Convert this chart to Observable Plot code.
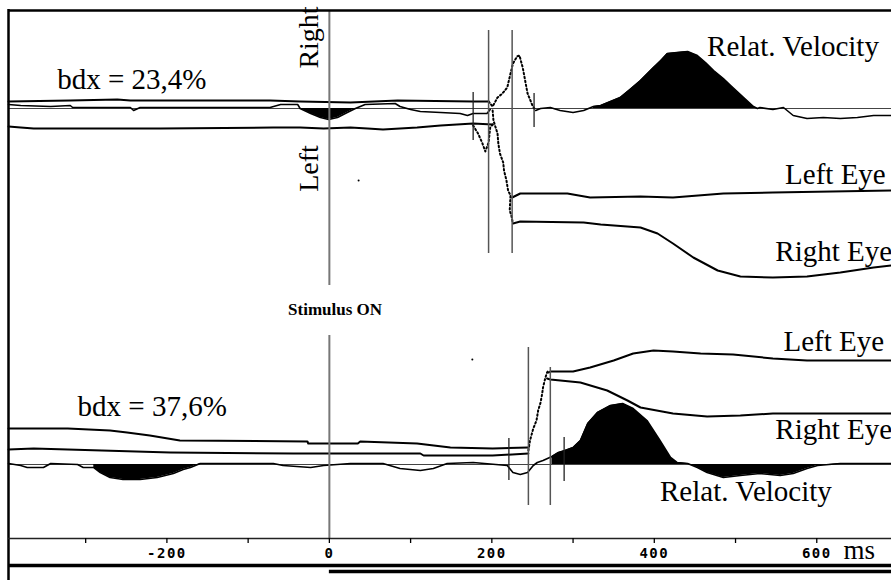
<!DOCTYPE html>
<html><head><meta charset="utf-8">
<script src="https://cdn.jsdelivr.net/npm/d3@7"></script>
<script src="https://cdn.jsdelivr.net/npm/@observablehq/plot@0.6"></script>
<style>
html,body{margin:0;padding:0;background:#fff;}
#chart svg{display:block;}
g[aria-label="x-axis tick label"] text{letter-spacing:1.5px;font-weight:bold;}
</style></head><body><div id="chart"></div>
<script>
// time axis (ms)
const timeTicks = [-300,-200,-100,0,100,200,300,400,500,600];
const tickLabels = {"-200":"-200","0":"0","200":"200","400":"400","600":"600"};

// ---- upper recording (bdx = 23,4%) : [ms, amplitude units] ----
const topUpperLine = [[-395,437],[-319,438],[-261,439],[-245,438],[-73,438],[-36,437],[26,436],[84,438],[177,437],[196,437]];
const topLowerLine = [[-395,412],[-380,411],[-364,410],[-208,410],[-69,411],[-36,411],[-7,410],[26,411],[47,410],[66,409],[87,410],[108,411],[137,413],[177,415],[201,414]];
const topVelocityPre = [[-395,434],[-380,433],[-343,432],[-319,433],[-316,431],[-245,431],[-241,428],[-233,431],[-73,431],[-60,434],[-39,434],[-36,430],[-23,425],[-11,421],[-1,419],[10,421],[22,426],[32,430],[44,434],[81,435],[87,432],[100,429],[112,427],[137,426],[161,425],[170,423],[177,425],[194,425],[198,429]];
const topVelocityPost = [[254,428],[260,430],[272,431],[284,428],[300,426],[313,428],[325,432],[334,433],[346,437],[358,441],[370,449],[383,458],[399,471],[408,478],[416,485],[428,486],[441,487],[453,483],[463,476],[473,468],[485,460],[494,453],[510,441],[522,432],[527,430],[530,431],[546,429],[559,431],[571,423],[588,420],[608,421],[629,420],[650,421],[670,423],[692,423]];
const topLeftEye = [[225,341],[235,345],[293,345],[321,341],[383,342],[423,341],[485,345],[546,346],[692,348]];
const topRightEye = [[226,315],[235,317],[313,316],[334,314],[383,311],[404,305],[423,295],[448,281],[478,268],[506,262],[546,261],[588,262],[629,266],[670,271],[692,273]];
const topSaccadeRise = [[196,437],[201,432],[207,441],[213,445],[219,451],[223,465],[226,475],[231,482],[234,483],[238,471],[241,458],[244,445],[250,433],[254,428]];
const topSaccadeDip = [[177,413],[183,405],[188,396],[192,387],[196,396],[198,411],[201,414]];
const topSaccadeFall = [[201,428],[202,418],[207,405],[208,395],[210,385],[214,376],[215,368],[218,358],[220,348],[223,343],[222,328],[224,323],[226,315]];
const topFillRanges = [[-36,32],[325,527]];

// ---- lower recording (bdx = 37,6%) ----
const botUpperLine = [[-395,110],[-322,110],[-270,108],[-249,106],[-221,103],[-184,98],[-27,97],[-26,95],[35,95],[38,97],[108,95],[149,91],[201,90],[245,91]];
const botMiddleLine = [[-395,89],[-364,90],[-322,89],[-196,86],[-44,85],[112,85],[116,83],[149,83],[201,83],[245,85]];
const botVelocity = [[-395,75],[-380,73],[-372,71],[-352,71],[-343,75],[-310,74],[-303,71],[-290,71],[-282,66],[-270,61],[-254,59],[-233,59],[-212,61],[-192,65],[-180,69],[-171,71],[-159,75],[-69,75],[-57,73],[-23,71],[-7,73],[26,75],[66,75],[87,70],[112,68],[128,70],[145,75],[177,76],[219,73],[226,66],[235,64],[244,66],[251,73],[256,76],[263,78],[274,82],[282,86],[290,88],[300,91],[309,98],[318,115],[330,126],[346,133],[361,135],[374,130],[391,118],[407,98],[420,81],[428,76],[441,75],[453,71],[465,66],[485,61],[506,63],[530,65],[555,63],[571,65],[588,70],[601,73],[629,75],[692,75]];
const botLeftEye = [[270,166],[272,167],[300,167],[321,171],[350,178],[374,185],[399,188],[423,187],[457,185],[497,184],[546,180],[588,178],[692,178]];
const botRightEye = [[268,160],[272,159],[309,156],[342,148],[367,138],[383,131],[423,125],[465,122],[506,123],[546,125],[629,125],[692,125]];
const botSaccadeRise = [[245,88],[247,98],[251,110],[255,118],[257,128],[260,136],[262,145],[263,151],[266,161],[268,166],[270,168]];
const botFillRanges = [[-290,-159],[270,441],[441,629]];

// baselines of velocity traces and event markers [ms, from, to]
const velocityBaselines = [430, 74];
const eventMarkersLong = [[196,508,285],[225,508,285],[245,191,33],[272,171,33]];
const eventMarkersShort = [[177,446,398],[252,445,411],[221,100,58],[289,101,57]];
const stimulusLine = [[0,528,253],[0,203,0]];
const strayDots = [[36,358],[176,179]];

// annotations
const serifLabels = [
  {text:"bdx = 23,4%", t:-335, v:459},
  {text:"bdx = 37,6%", t:-310, v:132},
  {text:"Relat. Velocity", t:465, v:492},
  {text:"Left Eye", t:561, v:364},
  {text:"Right Eye", t:549, v:287},
  {text:"Left Eye", t:559, v:197},
  {text:"Right Eye", t:549, v:109},
  {text:"Relat. Velocity", t:407, v:47}
];
const sideLabels = [{text:"Right", t:-25, v:501},{text:"Left", t:-25, v:370}];

const SERIF = "'Liberation Serif', 'DejaVu Serif', serif";
const X = d => d[0], Y = d => d[1];
const inRanges = (data, ranges) => ranges.map(([a,b]) => data.filter(d => d[0] >= a && d[0] <= b));

const fills = [
  ...inRanges(topVelocityPre.concat(topVelocityPost), topFillRanges).map(seg => Plot.areaY(seg, {x:X, y1:velocityBaselines[0], y2:Y, fill:"black"})),
  ...inRanges(botVelocity, botFillRanges).map(seg => Plot.areaY(seg, {x:X, y1:velocityBaselines[1], y2:Y, fill:"black"}))
];

const solid = (data, w=2) => Plot.line(data, {x:X, y:Y, stroke:"black", strokeWidth:w});
const dotted = data => Plot.line(data, {x:X, y:Y, stroke:"black", strokeWidth:2, strokeDasharray:"1.5,2.5"});

const chart = Plot.plot({
  width: 891, height: 580,
  marginLeft: 8, marginRight: 0, marginTop: 9, marginBottom: 42,
  x: {domain: [-395, 692]},
  y: {domain: [0, 529], axis: null},
  style: {fontFamily: SERIF, background: "white", overflow: "visible"},
  marks: [
    Plot.ruleY(velocityBaselines, {stroke:"#444", strokeWidth:1}),
    ...fills,
    solid(topUpperLine), solid(topLowerLine),
    solid(topVelocityPre, 1.6), solid(topVelocityPost, 1.6),
    solid(topLeftEye), solid(topRightEye),
    dotted(topSaccadeRise), dotted(topSaccadeDip), dotted(topSaccadeFall),
    solid(botUpperLine), solid(botMiddleLine), solid(botVelocity, 1.6),
    solid(botLeftEye), solid(botRightEye),
    dotted(botSaccadeRise),
    Plot.ruleX(eventMarkersLong, {x:X, y1:d=>d[1], y2:d=>d[2], stroke:"#555", strokeWidth:1.5}),
    Plot.ruleX(eventMarkersShort, {x:X, y1:d=>d[1], y2:d=>d[2], stroke:"#222", strokeWidth:1.3}),
    Plot.ruleX(stimulusLine, {x:X, y1:d=>d[1], y2:d=>d[2], stroke:"#777", strokeWidth:2}),
    Plot.dot(strayDots, {x:X, y:Y, r:1, fill:"black"}),
    // frame and time bars
    Plot.ruleY([528], {x1:-395, x2:692, stroke:"black", strokeWidth:2.5}),
    Plot.ruleX([-395], {y1:-42, y2:529, stroke:"black", strokeWidth:2.5}),
    Plot.ruleY([0], {stroke:"#222", strokeWidth:1.6}),
    Plot.ruleY([-27], {x1:-395, x2:692, stroke:"black", strokeWidth:3.5}),
    Plot.ruleY([-33], {x1:0, x2:692, stroke:"black", strokeWidth:3.5}),
    Plot.axisX({ticks: timeTicks, tickSize:5, tickPadding:5, tickFormat: d => tickLabels[d] ?? "",
      fontFamily:"'DejaVu Sans Mono', monospace", fontWeight:"bold", fontSize:14, label:null, strokeWidth:1.3, fill:"black"}),
    Plot.text(["ms"], {x:633, y:-12, text:d=>d, textAnchor:"start", fontSize:27, fontFamily:SERIF, fill:"black"}),
    Plot.text(serifLabels, {x:"t", y:"v", text:"text", textAnchor:"start", fontSize:29, fontFamily:SERIF, fill:"black"}),
    Plot.text(sideLabels, {x:"t", y:"v", text:"text", rotate:-90, fontSize:28, fontFamily:SERIF, fill:"black"}),
    Plot.text(["Stimulus ON"], {x:7, y:229, text:d=>d, fontSize:17, fontWeight:"bold", fontFamily:SERIF, fill:"black"})
  ]
});
document.getElementById("chart").appendChild(chart);
</script></body></html>
